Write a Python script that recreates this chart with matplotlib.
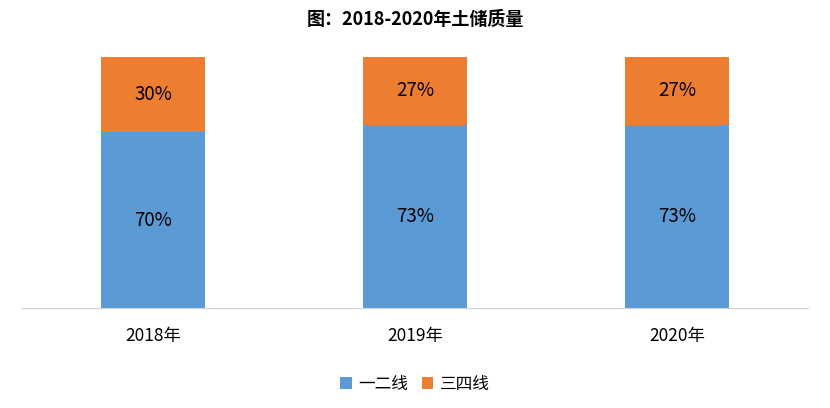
import matplotlib
matplotlib.use("Agg")
import matplotlib.pyplot as plt
plt.rcParams['font.family'] = ['Noto Sans CJK SC', 'DejaVu Sans']

years = ["2018年", "2019年", "2020年"]
tier12 = [70, 73, 73]
tier34 = [30, 27, 27]
labels12 = ["70%", "73%", "73%"]
labels34 = ["30%", "27%", "27%"]

fig = plt.figure(figsize=(8.3, 4.08), dpi=100)
ax = fig.add_axes([0.0265, 0.245, 0.947, 0.615])
x = range(len(years))
ax.bar(x, tier12, width=0.4, color="#5B9BD5", label="一二线")
ax.bar(x, tier34, width=0.4, bottom=tier12, color="#ED7D31", label="三四线")
for i in x:
    ax.text(i, tier12[i] / 2, labels12[i], ha="center", va="center", fontsize=13.5)
    ax.text(i, tier12[i] + tier34[i] / 2, labels34[i], ha="center", va="center", fontsize=13.5)
ax.set_xlim(-0.5, 2.5); ax.set_ylim(0, 100)
ax.set_xticks(list(x)); ax.set_xticklabels(years, fontsize=12.5)
ax.set_yticks([])
ax.tick_params(axis="x", length=0, pad=14)
for s in ["top", "right", "left"]:
    ax.spines[s].set_visible(False)
ax.spines["bottom"].set_color("#d0d0d0")
fig.suptitle("图：2018-2020年土储质量", fontsize=13, fontweight="bold", y=0.975)
fig.legend(loc="lower center", ncol=2, frameon=False, fontsize=12,
           bbox_to_anchor=(0.5, 0.0), handlelength=0.7, handleheight=0.7, columnspacing=0.8, handletextpad=0.4)
fig.savefig("out.png")
